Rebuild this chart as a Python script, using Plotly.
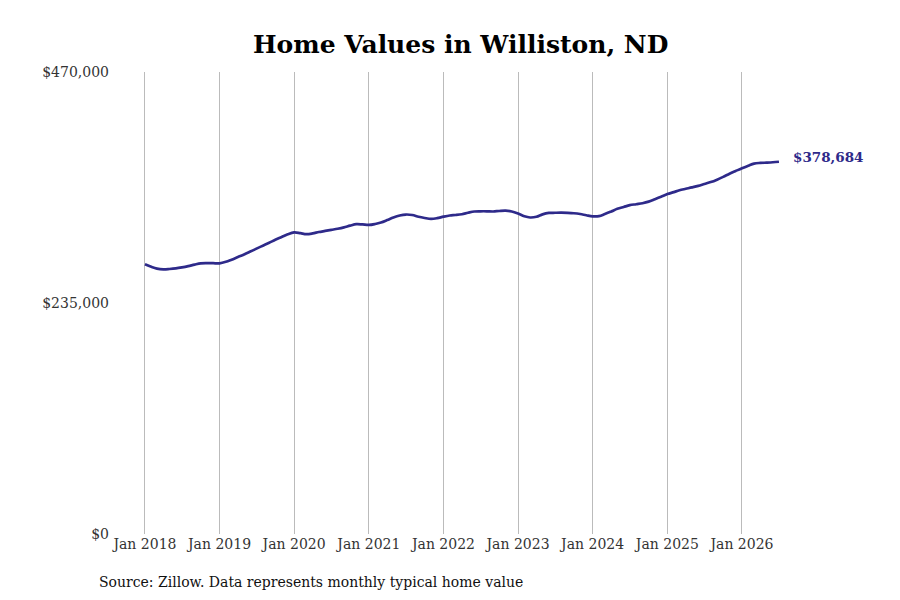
import pandas as pd
import plotly.graph_objects as go

# typical home value, monthly from Jan 2018
home_values = [
    274400, 271800, 270000, 269300, 269600, 270200, 271200, 272500, 274100, 275400, 275600, 275500,
    275400, 276900, 279100, 281800, 284300, 287300, 290300, 293300, 296200, 299300, 302100, 304900,
    306800, 306000, 305000, 305800, 307200, 308300, 309400, 310500, 311900, 313700, 315200, 314900,
    314400, 315400, 316900, 319400, 322000, 324000, 325000, 324500, 322700, 321500, 320600, 321300,
    322800, 324000, 324500, 325300, 326800, 328100, 328300, 328300, 328100, 328600, 328900, 328100,
    326000, 323200, 322000, 322700, 325200, 326600, 326800, 326900, 326700, 326300, 325500, 324300,
    323200, 323400, 325500, 328100, 330800, 332700, 334500, 335500, 336500, 338100, 340600, 343100,
    345800, 347800, 349700, 351200, 352600, 354200, 356100, 358000, 360500, 363300, 366500, 369300,
    372100, 374700, 376800, 377500, 377800, 378200, 378684,
]
months = pd.date_range("2018-01-01", periods=len(home_values), freq="MS")

y_ticks = [0, 235000, 470000]
y_labels = ["$0", "$235,000", "$470,000"]

line_color = "#2e2a8a"
serif = "DejaVu Serif"

fig = go.Figure()
fig.add_trace(go.Scatter(
    x=months,
    y=home_values,
    mode="lines",
    line=dict(color=line_color, width=2.7, shape="spline"),
    hoverinfo="skip",
    cliponaxis=False,
))

# end label
fig.add_annotation(
    x=months[-1], y=home_values[-1],
    text="<b>$%s</b>" % format(home_values[-1], ","),
    showarrow=False, xanchor="left", xshift=12, yshift=5,
    font=dict(family=serif, size=13.5, color=line_color),
)

fig.add_annotation(
    x=-0.019, y=-0.104, xref="paper", yref="paper",
    text="Source: Zillow. Data represents monthly typical home value",
    showarrow=False, xanchor="left", yanchor="middle",
    font=dict(family=serif, size=14, color="#111111"),
)

fig.update_layout(
    width=900, height=600,
    title=dict(
        text="<b>Home Values in Williston, ND</b>",
        x=0.503, xanchor="center", y=0.94, yanchor="middle",
        font=dict(family=serif, size=25, color="#000000"),
    ),
    margin=dict(l=102, r=118, t=64, b=74),
    plot_bgcolor="white",
    paper_bgcolor="white",
    showlegend=False,
    xaxis=dict(
        range=["2017-07-14", "2026-08-24"],
        tick0="2018-01-01", dtick="M12", tickformat="%b %Y",
        showgrid=True, gridcolor="#bbbbbb", gridwidth=1,
        zeroline=False, showline=False, ticks="",
        tickfont=dict(family=serif, size=14, color="#333333"),
    ),
    yaxis=dict(
        range=[0, 470000],
        tickvals=y_ticks, ticktext=y_labels,
        showgrid=False, zeroline=False, showline=False, ticks="",
        tickfont=dict(family=serif, size=14, color="#333333"),
    ),
)

fig.write_html("out.html")
